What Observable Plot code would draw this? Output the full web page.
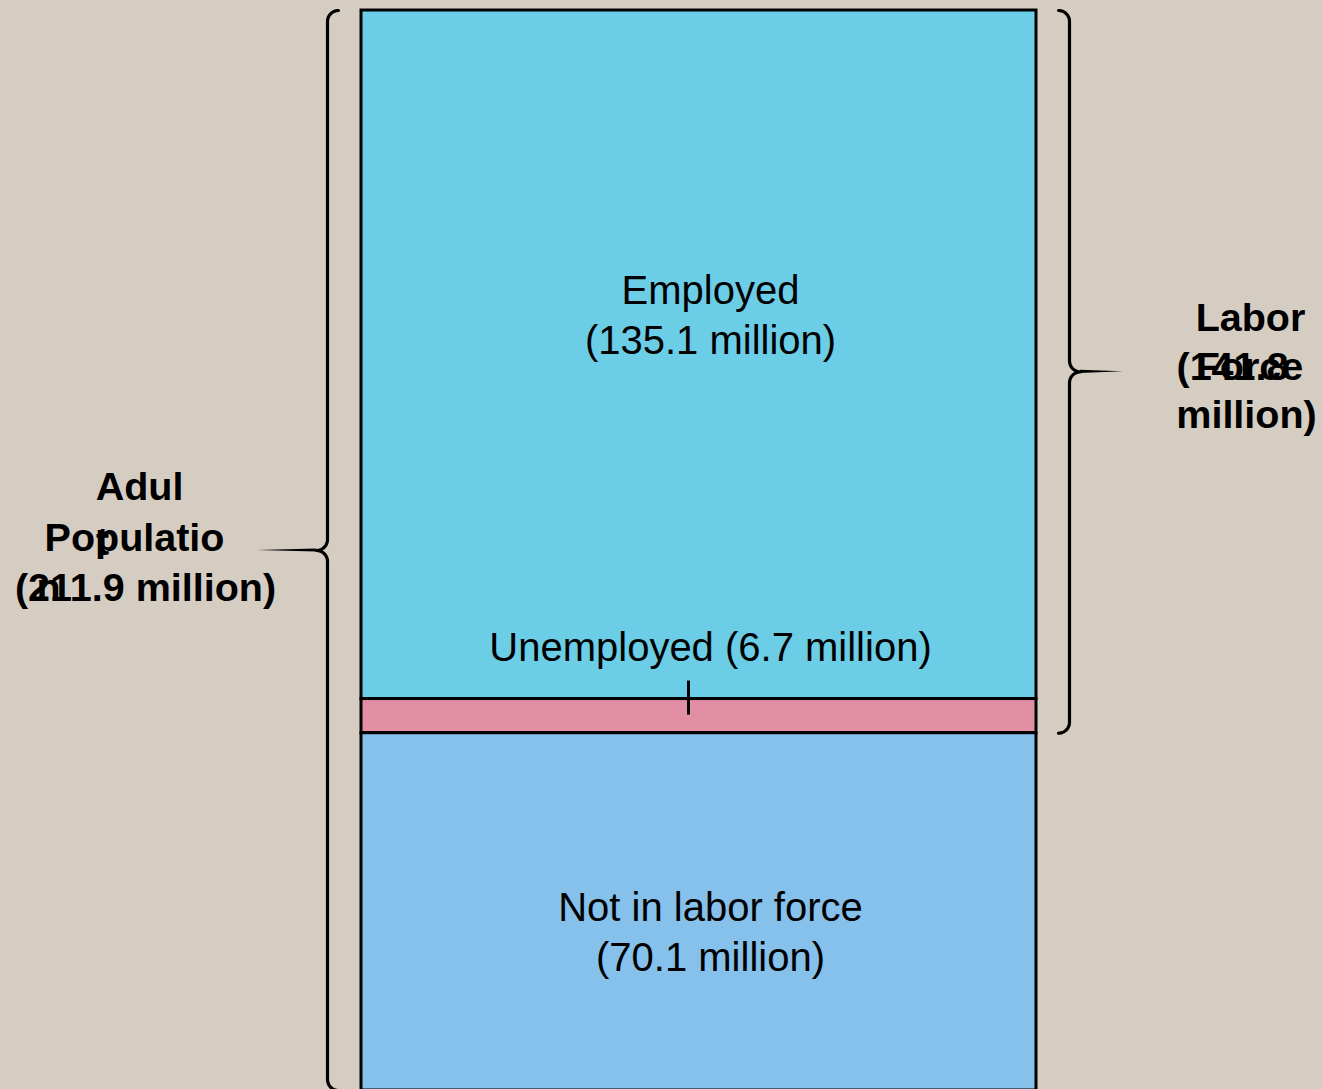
<!DOCTYPE html>
<html>
<head>
<meta charset="utf-8">
<script src="https://cdn.jsdelivr.net/npm/d3@7"></script>
<script src="https://cdn.jsdelivr.net/npm/@observablehq/plot@0.6"></script>
<style>
  html, body { margin: 0; padding: 0; background: #d6cdc2; overflow: hidden; }
  #chart svg { display: block; }
</style>
</head>
<body>
<div id="chart"></div>
<script>
// ---- data ----
const categories = ["Employed", "Unemployed", "Not in labor force"];
const values = [135.1, 6.7, 70.1];           // millions
const colors = ["#6bcde6", "#e28fa6", "#86c1ec"];
const laborForceTotal = 141.8;
const adultPopulationTotal = 211.9;

// ---- build table ----
let acc = 0;
const segments = categories.map((name, i) => {
  const s = {name, value: values[i], start: acc, end: acc + values[i]};
  acc += values[i];
  return s;
});

const W = 1322, H = 1089;
const xRange = [361, 1036];
const yRange = [10, 1090];
const pxX = (xRange[1] - xRange[0]);               // px per x unit
const pxY = (yRange[1] - yRange[0]) / adultPopulationTotal; // px per million

// curly brace geometry (in data units)
function bracePoints(xc, y0, y1, s, r = 11) {
  const pts = [];
  const span = (y1 - y0) * pxY, mid = span / 2;
  const push = (px, py) => pts.push({x: xc + s * px / pxX, y: y0 + py / pxY});
  const arc = (cx, cy, a0, a1) => {
    const n = 14;
    for (let k = 0; k <= n; k++) {
      const a = (a0 + (a1 - a0) * k / n) * Math.PI / 180;
      push(cx + r * Math.cos(a), cy + r * Math.sin(a));
    }
  };
  arc(r, r, -90, -180);
  arc(-r, mid - r, 0, 90);
  arc(-r, mid + r, -90, 0);
  arc(r, span - r, 180, 90);
  return pts;
}
// tapered tip of a brace (triangle), in data units
function tipPoints(x0, x1, y, half = 1.6) {
  return [
    {x: x0, y1: y - half / pxY, y2: y + half / pxY},
    {x: x1, y1: y, y2: y}
  ];
}

const leftX = (327 - xRange[0]) / pxX;
const rightX = (1069 - xRange[0]) / pxX;
const leftBrace = bracePoints(leftX, 0, adultPopulationTotal, 1);
const rightBrace = bracePoints(rightX, 0, laborForceTotal, -1);
const leftMid = adultPopulationTotal / 2, rightMid = laborForceTotal / 2;
const leftTip = tipPoints(leftX - 11 / pxX, leftX - 70 / pxX, leftMid);
const rightTip = tipPoints(rightX + 11 / pxX, rightX + 54 / pxX, rightMid);

// segment labels
const segLabels = segments.map((d, i) => ({
  text: d.name + (d.value < 10 ? " " : "\n") + `(${d.value} million)`,
  y: d.value < 10 ? d.start : (d.start + d.end) / 2,
  dy: d.value < 10 ? -54 : (i === 0 ? -42 : 18)
}));

// brace annotations (pieces as rendered in the reference)
const adultLabel = "Adult Population";
const adultPieces = [
  {text: adultLabel.slice(0, 4), dx: -188, dy: -63},
  {text: adultLabel.slice(4, 5), dx: -225, dy: -8},
  {text: adultLabel.slice(6, 15), dx: -193, dy: -12},
  {text: adultLabel.slice(15), dx: -279, dy: 38},
  {text: `(${adultPopulationTotal} million)`, dx: -182, dy: 38}
];
const laborPieces = [
  {text: "Labor", dx: 181, dy: -53},
  {text: "Force", dx: 180, dy: -4},
  {text: `(${laborForceTotal}`, dx: 163, dy: -4},
  {text: "million)", dx: 177, dy: 44}
];

const font = "'Liberation Sans', Arial, Helvetica, sans-serif";
const unemp = segments[1];

const marks = [
  Plot.rect(segments, {x1: 0, x2: 1, y1: "start", y2: "end", fill: (d, i) => colors[i], stroke: "black", strokeWidth: 3}),
  Plot.ruleX([unemp], {x: 0.4844, y1: d => d.start - 18 / pxY, y2: d => d.start + 16 / pxY, stroke: "black", strokeWidth: 3}),
  Plot.line(leftBrace, {x: "x", y: "y", stroke: "black", strokeWidth: 3.2, curve: "linear"}),
  Plot.line(rightBrace, {x: "x", y: "y", stroke: "black", strokeWidth: 3.2, curve: "linear"}),
  Plot.areaY(leftTip, {x: "x", y1: "y1", y2: "y2", fill: "black"}),
  Plot.areaY(rightTip, {x: "x", y1: "y1", y2: "y2", fill: "black"}),
  ...segLabels.map(p => Plot.text([p], {x: 0.5, dx: 11.5, y: "y", dy: p.dy, text: "text", fontSize: 40, lineHeight: 1.27, fill: "black", fontFamily: font})),
  ...adultPieces.map(p => Plot.text([p], {x: leftX, y: leftMid, dx: p.dx, dy: p.dy, text: "text", fontSize: 39.5, fontWeight: "bold", fill: "black", fontFamily: font})),
  ...laborPieces.map(p => Plot.text([p], {x: rightX, y: rightMid, dx: p.dx, dy: p.dy, text: "text", fontSize: 39.5, fontWeight: "bold", fill: "black", fontFamily: font}))
];

const chart = Plot.plot({
  width: W,
  height: H,
  margin: 0,
  x: {domain: [0, 1], range: xRange, axis: null},
  y: {domain: [0, adultPopulationTotal], range: yRange, axis: null},
  style: {background: "#d6cdc2", fontFamily: font, overflow: "visible"},
  marks
});
document.getElementById("chart").appendChild(chart);
</script>
</body>
</html>
